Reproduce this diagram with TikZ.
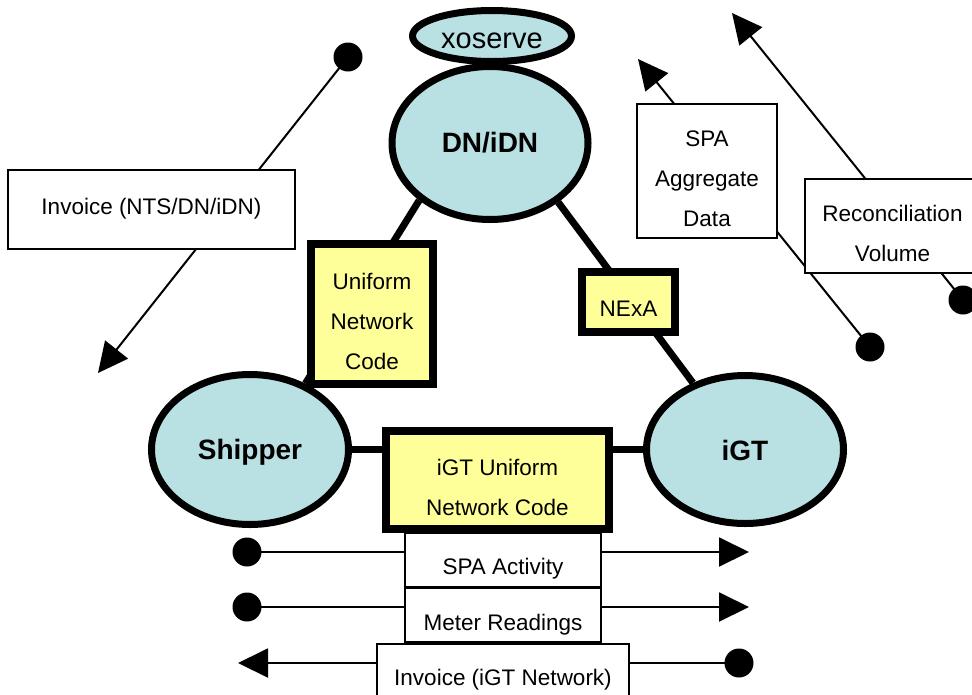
\documentclass[tikz,border=0pt]{standalone}
\usepackage{fontspec}
\setmainfont{Liberation Sans}
\usetikzlibrary{shapes.geometric,arrows.meta}
\definecolor{partyblue}{RGB}{185,224,227}
\definecolor{agreeyellow}{RGB}{255,255,153}
\tikzset{
  party/.style={ellipse, draw=black, line width=7pt, fill=partyblue, inner sep=0pt},
  partytext/.style={inner sep=0pt, font=\fontsize{28}{32}\selectfont\bfseries},
  agree/.style={rectangle, draw=black, line width=8pt, fill=agreeyellow, inner sep=0pt},
  flowbox/.style={rectangle, draw=black, line width=2pt, fill=white, inner sep=0pt},
  boxtext/.style={inner sep=0pt, align=center, font=\fontsize{22.5}{40}\selectfont},
  link/.style={line width=7pt},
  dotend/.style={circle, fill=black, inner sep=0pt, minimum size=29pt},
  flow/.style={line width=2pt, -{Triangle[length=30pt,width=29pt]}},
}
\begin{document}
\begin{tikzpicture}[x=1pt,y=-1pt]
\useasboundingbox (0,0) rectangle (972,694);
\fill[white] (0,0) rectangle (972,694);

% parties
\node[party, minimum width=196pt, minimum height=153pt] (dn) at (490,143) {};
\node[partytext] (dnt) at (dn.center) {DN/iDN};
\node[party, minimum width=159pt, minimum height=51pt] (xo) at (492,36) {};
\node[inner sep=0pt, font=\fontsize{29}{32}\selectfont] (xot) at ([yshift=-5pt]xo.center) {xoserve};
\node[party, minimum width=197pt, minimum height=150pt] (sh) at (250,449.5) {};
\node[partytext] (sht) at ([yshift=-3pt]sh.center) {Shipper};
\node[party, minimum width=197pt, minimum height=148pt] (igt) at (745,449.5) {};
\node[partytext] (igtt) at ([yshift=-1pt]igt.center) {iGT};

% links
\draw[link] (dn.219) -- (sh.50);
\draw[link] (dn.319) -- (igt.128);
\draw[link] (sh.east) -- (igt.west);

% agreements
\node[agree, minimum width=122pt, minimum height=140pt] (unc) at (372,314) {};
\node[boxtext] (unct) at ([yshift=-7pt]unc.center) {Uniform\\Network\\Code};
\node[agree, minimum width=93pt, minimum height=60pt] (nexa) at (628.5,302) {};
\node[boxtext] (nexat) at ([yshift=-7pt]nexa.center) {NExA};
\node[agree, minimum width=223pt, minimum height=98pt] (iunc) at (497.5,480) {};
\node[boxtext] (iunct) at ([yshift=-7pt]iunc.center) {iGT Uniform\\Network Code};

% flows: dots and tips
\node[dotend] (d1) at (348,57) {};
\coordinate (t1) at (98,373);
\node[dotend] (d2) at (870,347) {};
\coordinate (t2) at (638,59);
\node[dotend] (d3) at (963,300) {};
\coordinate (t3) at (732,13);
\node[dotend] (d4) at (247,552) {};
\coordinate (t4) at (749,552);
\node[dotend] (d5) at (247,607) {};
\coordinate (t5) at (749,607);
\node[dotend] (d6) at (739,663) {};
\coordinate (t6) at (238,663);

\draw[flow] (d1.center) -- (t1);
\draw[flow] (d2.center) -- (t2);
\draw[flow] (d3.center) -- (t3);
\draw[flow] (d4.center) -- (t4);
\draw[flow] (d5.center) -- (t5);
\draw[flow] (d6.center) -- (t6);

% flow labels
\node[flowbox, minimum width=287pt, minimum height=79pt] (inv1) at (151.5,209.5) {};
\node[boxtext] (inv1t) at ([yshift=1pt]inv1.center) {Invoice (NTS/DN/iDN)};
\node[flowbox, minimum width=140pt, minimum height=134pt] (spaagg) at (707,171) {};
\node[boxtext] (spaaggt) at ([yshift=-8pt]spaagg.center) {SPA\\Aggregate\\Data};
\node[flowbox, minimum width=175pt, minimum height=94pt] (recon) at (892.5,226) {};
\node[boxtext] (recont) at ([yshift=-7pt]recon.center) {Reconciliation\\Volume};
\node[flowbox, minimum width=196pt, minimum height=54pt] (spaact) at (503,560) {};
\node[boxtext] (spaactt) at ([yshift=-9pt]spaact.center) {SPA Activity};
\node[flowbox, minimum width=196pt, minimum height=54pt] (meter) at (503,615) {};
\node[boxtext] (metert) at ([yshift=-10pt]meter.center) {Meter Readings};
\node[flowbox, minimum width=252pt, minimum height=68pt] (inv2) at (503,678) {};
\node[boxtext] (inv2t) at ([yshift=-2pt]inv2.center) {Invoice (iGT Network)};
\end{tikzpicture}
\end{document}
